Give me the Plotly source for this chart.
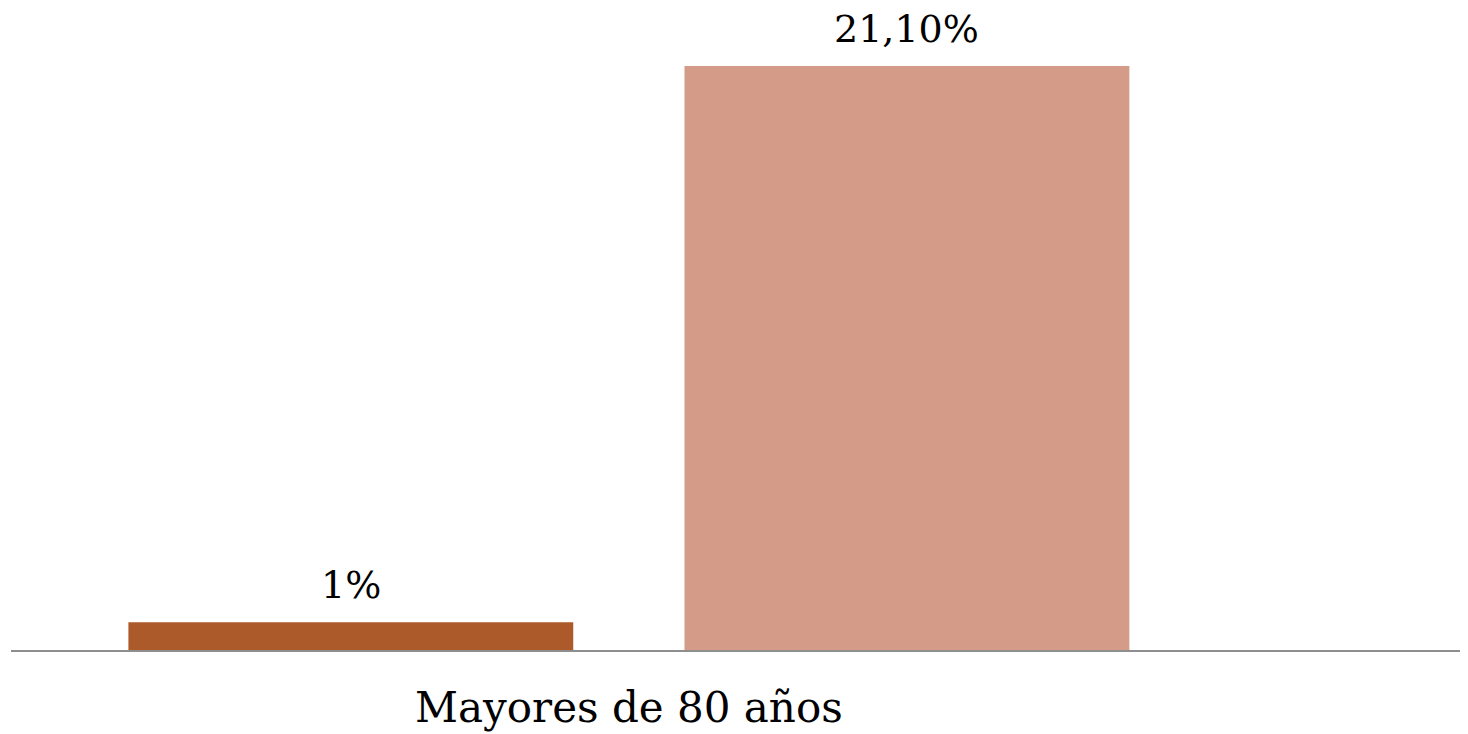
import plotly.graph_objects as go

categories = ["Mayores de 80 años"]
series_names = ["Serie 1", "Serie 2"]
series_values = [[1.0], [21.1]]
series_labels = [["1%"], ["21,10%"]]
series_colors = ["#AD5A2A", "#D49C88"]

FONT = "DejaVu Serif, Georgia, serif"
bargap = 0.1
bargroupgap = 0.2

fig = go.Figure()
for name, vals, col in zip(series_names, series_values, series_colors):
    fig.add_trace(go.Bar(x=categories, y=vals, name=name, marker_color=col,
                         marker_line_width=0, hoverinfo="skip"))

# value labels placed above each bar
n = len(series_names)
slot = (1 - bargap) / n
for k, (vals, labs) in enumerate(zip(series_values, series_labels)):
    off = -(1 - bargap) / 2 + slot * (k + 0.5)
    for i, (v, t) in enumerate(zip(vals, labs)):
        fig.add_annotation(x=i + off, y=v, xref="x", yref="y", text=t,
                           showarrow=False, yanchor="bottom", yshift=14,
                           borderpad=0,
                           font=dict(family=FONT, size=38, color="#000000"))

fig.update_layout(
    width=1468, height=734,
    margin=dict(l=3, r=13, t=2, b=92),
    paper_bgcolor="white", plot_bgcolor="white",
    barmode="group", bargap=bargap, bargroupgap=bargroupgap,
    showlegend=False,
    font=dict(family=FONT, color="#000000"),
)
fig.update_xaxes(type="category", range=[-0.5, 0.675], showline=True,
                 linecolor="#8E8E8E", linewidth=2, showgrid=False,
                 ticks="", tickfont=dict(family=FONT, size=42, color="#000000"),
                 ticklabelstandoff=20)
fig.update_yaxes(range=[0, 23.12], showgrid=False, zeroline=False,
                 showticklabels=False, showline=False)

fig.write_html("out.html")
